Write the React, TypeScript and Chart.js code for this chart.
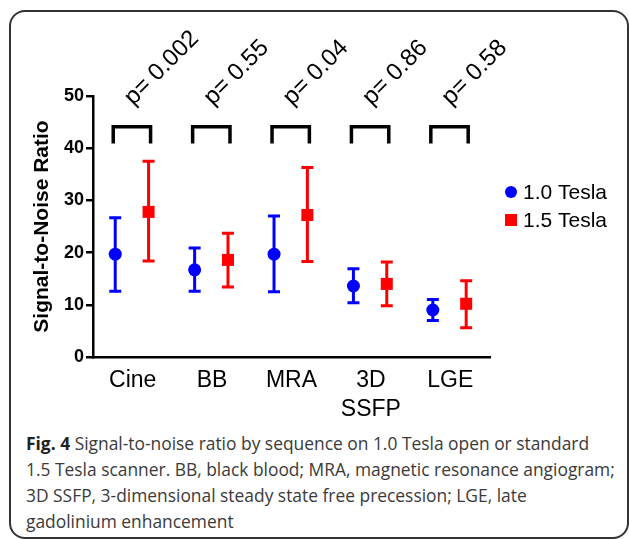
import React, { useEffect, useRef } from "react";
import { Chart, registerables } from "chart.js";

Chart.register(...registerables);

const categories = ["Cine", "BB", "MRA", "3D SSFP", "LGE"];
const tickLabels = [["Cine"], ["BB"], ["MRA"], ["3D", "SSFP"], ["LGE"]];
const tesla10Mean = [19.7, 16.7, 19.7, 13.6, 9.0];
const tesla10Low = [12.6, 12.6, 12.5, 10.4, 7.0];
const tesla10High = [26.7, 20.9, 27.0, 16.9, 11.0];
const tesla15Mean = [27.8, 18.6, 27.2, 14.0, 10.2];
const tesla15Low = [18.4, 13.4, 18.3, 9.8, 5.6];
const tesla15High = [37.5, 23.7, 36.3, 18.2, 14.6];
const pValues = ["p= 0.002", "p= 0.55", "p= 0.04", "p= 0.86", "p= 0.58"];
const yTicks = [0, 10, 20, 30, 40, 50];
const seriesNames = ["1.0 Tesla", "1.5 Tesla"];
const bracketTop = 44.1;
const bracketBottom = 40.9;

const FONT = "'Liberation Sans', Arial, Helvetica, sans-serif";
const BLUE = "#0000ff";
const RED = "#ff0000";
const OFF_BLUE = -0.22;
const OFF_RED = 0.2;

const captionLines = [
  "Signal-to-noise ratio by sequence on 1.0 Tesla open or standard",
  "1.5 Tesla scanner. BB, black blood; MRA, magnetic resonance angiogram;",
  "3D SSFP, 3-dimensional steady state free precession; LGE, late",
  "gadolinium enhancement",
];

const errorBarPlugin = {
  id: "errorBars",
  beforeDatasetsDraw(chart: any) {
    const ctx = chart.ctx;
    const y = chart.scales.y;
    const sets = [
      { lo: tesla10Low, hi: tesla10High, color: BLUE },
      { lo: tesla15Low, hi: tesla15High, color: RED },
    ];
    sets.forEach((s, di) => {
      const meta = chart.getDatasetMeta(di);
      meta.data.forEach((pt: any, i: number) => {
        const x = pt.x;
        const y1 = y.getPixelForValue(s.lo[i]);
        const y2 = y.getPixelForValue(s.hi[i]);
        ctx.save();
        ctx.strokeStyle = s.color;
        ctx.lineWidth = 3;
        ctx.beginPath();
        ctx.moveTo(x, y1);
        ctx.lineTo(x, y2);
        ctx.moveTo(x - 6, y1);
        ctx.lineTo(x + 6, y1);
        ctx.moveTo(x - 6, y2);
        ctx.lineTo(x + 6, y2);
        ctx.stroke();
        ctx.restore();
      });
    });
  },
};

const decorPlugin = {
  id: "decor",
  afterDraw(chart: any) {
    const ctx = chart.ctx;
    const xs = chart.scales.x;
    const ys = chart.scales.y;
    const area = chart.chartArea;
    ctx.save();
    // brackets
    ctx.strokeStyle = "#000";
    ctx.lineWidth = 3.5;
    ctx.lineJoin = "miter";
    const yt = ys.getPixelForValue(bracketTop);
    const yb = ys.getPixelForValue(bracketBottom);
    categories.forEach((_, i) => {
      const xb = xs.getPixelForValue(i + 1 + OFF_BLUE) - 2;
      const xr = xs.getPixelForValue(i + 1 + OFF_RED) + 2;
      ctx.beginPath();
      ctx.moveTo(xb, yb);
      ctx.lineTo(xb, yt);
      ctx.lineTo(xr, yt);
      ctx.lineTo(xr, yb);
      ctx.stroke();
    });
    // p-values
    ctx.fillStyle = "#000";
    ctx.font = `24px ${FONT}`;
    ctx.textAlign = "left";
    ctx.textBaseline = "alphabetic";
    pValues.forEach((p, i) => {
      const x0 = xs.getPixelForValue(i + 1 + OFF_BLUE) + 18;
      const y0 = area.top + 10;
      ctx.save();
      ctx.translate(x0, y0);
      ctx.rotate(-Math.PI / 4);
      ctx.fillText(p, 0, 0);
      ctx.restore();
    });
    // y title
    ctx.save();
    ctx.translate(42, (area.top + area.bottom) / 2);
    ctx.rotate(-Math.PI / 2);
    ctx.textAlign = "center";
    ctx.textBaseline = "middle";
    ctx.font = `bold 21px ${FONT}`;
    ctx.fillText("Signal-to-Noise Ratio", 0, 0);
    ctx.restore();
    // legend
    const lx = area.right + 21;
    ctx.font = `21px ${FONT}`;
    ctx.textBaseline = "middle";
    ctx.fillStyle = BLUE;
    ctx.beginPath();
    ctx.arc(lx, 192, 6, 0, Math.PI * 2);
    ctx.fill();
    ctx.fillStyle = RED;
    ctx.fillRect(lx - 6, 220 - 6, 12, 12);
    ctx.fillStyle = "#000";
    ctx.fillText(seriesNames[0], lx + 12, 193);
    ctx.fillText(seriesNames[1], lx + 12, 221);
    ctx.restore();
  },
};

export default function App() {
  const ref = useRef<HTMLCanvasElement | null>(null);
  useEffect(() => {
    if (!ref.current) return;
    const chart = new Chart(ref.current, {
      type: "scatter",
      data: {
        datasets: [
          {
            label: seriesNames[0],
            data: tesla10Mean.map((v, i) => ({ x: i + 1 + OFF_BLUE, y: v })),
            backgroundColor: BLUE,
            borderColor: BLUE,
            pointStyle: "circle",
            pointRadius: 6.5,
            pointBorderWidth: 0,
          },
          {
            label: seriesNames[1],
            data: tesla15Mean.map((v, i) => ({ x: i + 1 + OFF_RED, y: v })),
            backgroundColor: RED,
            borderColor: RED,
            pointStyle: "rect",
            pointRadius: 8.5,
            pointBorderWidth: 0,
          },
        ],
      },
      options: {
        responsive: false,
        animation: false,
        devicePixelRatio: 1,
        layout: { padding: { top: 96, right: 139, left: 0, bottom: 0 } },
        plugins: { legend: { display: false }, tooltip: { enabled: false } },
        scales: {
          x: {
            type: "linear",
            min: 0.5,
            max: 5.5,
            afterBuildTicks: (s: any) => {
              s.ticks = [1, 2, 3, 4, 5].map((v) => ({ value: v }));
            },
            afterFit: (s: any) => {
              s.height = 430 - 357;
            },
            grid: { display: false, drawTicks: false },
            border: { display: true, color: "#000", width: 2.5 },
            ticks: {
              autoSkip: false,
              maxRotation: 0,
              padding: 9,
              color: "#000",
              font: { family: FONT, size: 23, lineHeight: 1.26 },
              callback: (v: any) => tickLabels[Math.round(v) - 1] ?? "",
            },
          },
          y: {
            min: 0,
            max: 50,
            afterBuildTicks: (s: any) => {
              s.ticks = yTicks.map((v) => ({ value: v }));
            },
            afterFit: (s: any) => {
              s.width = 93;
            },
            grid: {
              display: true,
              drawOnChartArea: false,
              drawTicks: true,
              tickLength: 7,
              color: "#000",
              lineWidth: 2.5,
            },
            border: { display: true, color: "#000", width: 2.5 },
            ticks: {
              padding: 2,
              color: "#000",
              font: { family: FONT, size: 18, weight: "bold" },
            },
          },
        },
      },
      plugins: [errorBarPlugin, decorPlugin],
    } as any);
    return () => chart.destroy();
  }, []);

  return (
    <div style={{ position: "absolute", left: 0, top: 0, width: 629, height: 540, background: "#fff", overflow: "hidden" }}>
      <div
        style={{
          position: "absolute",
          left: 9,
          top: 10,
          width: 620,
          height: 529,
          boxSizing: "border-box",
          border: "2px solid #333",
          borderRadius: 16,
        }}
      />
      <canvas ref={ref} width={629} height={430} style={{ position: "absolute", left: 0, top: 0 }} />
      <div
        style={{
          position: "absolute",
          left: 26,
          top: 430,
          fontFamily: "'Open Sans', sans-serif",
          fontSize: 17.4,
          lineHeight: "26px",
          color: "#3a3a3a",
          whiteSpace: "nowrap",
        }}
      >
        {captionLines.map((l, i) => (
          <div key={i}>
            {i === 0 ? <b style={{ color: "#222" }}>Fig. 4 </b> : null}
            {l}
          </div>
        ))}
      </div>
    </div>
  );
}
